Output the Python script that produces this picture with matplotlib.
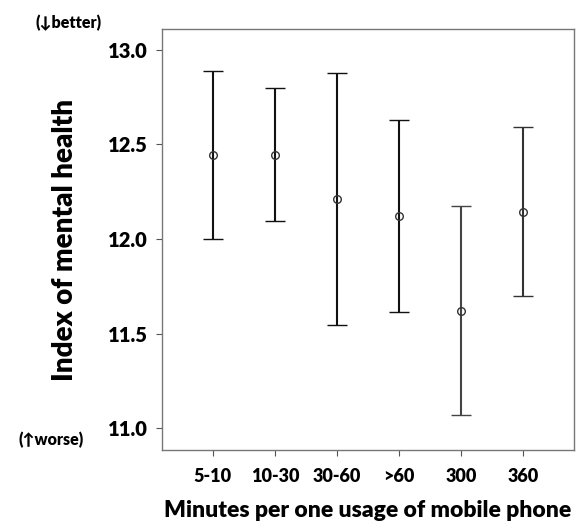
import matplotlib
matplotlib.use("Agg")
import matplotlib.pyplot as plt

# data
categories = ["5-10", "10-30", "30-60", ">60", "300", "360"]
means = [12.445, 12.445, 12.21, 12.12, 11.62, 12.145]
upper = [12.889, 12.797, 12.878, 12.63, 12.175, 12.595]
lower = [12.0, 12.095, 11.545, 11.612, 11.07, 11.70]
yticks = [11.0, 11.5, 12.0, 12.5, 13.0]
bar_colors = ["#111111", "#111111", "#111111", "#111111", "#444444", "#333333"]

plt.rcParams['font.family'] = ['Lato', 'DejaVu Sans']

fig = plt.figure(figsize=(5.84, 5.25), dpi=100)
ax = fig.add_axes([0.2774, 0.1429, 0.7055, 0.8019])

xs = list(range(1, len(categories) + 1))
for x, m, hi, lo, c in zip(xs, means, upper, lower, bar_colors):
    ax.errorbar([x], [m], yerr=[[m - lo], [hi - m]], fmt='o', color=c,
                mfc='none', mec='#333333', ms=5.5, mew=1.0, elinewidth=1.5,
                capsize=7.5, capthick=1.5, zorder=3)

ax.set_xlim(0.18, 6.82)
ax.set_ylim(10.884, 13.111)
ax.set_xticks(xs)
ax.set_xticklabels(categories, fontsize=13, fontweight='heavy')
ax.set_yticks(yticks)
ax.set_yticklabels([f"{v:.1f}" for v in yticks], fontsize=14.5, fontweight='heavy')
ax.tick_params(axis='x', length=4, pad=9, color='#555555')
ax.tick_params(axis='y', length=4, pad=6, color='#555555')
for s in ax.spines.values():
    s.set_color('#777777')
    s.set_linewidth(1.0)

ax.set_ylabel("Index of mental health", fontsize=20, fontweight='heavy', labelpad=22)
ax.set_xlabel("Minutes per one usage of mobile phone", fontsize=16.5,
              fontweight='heavy', labelpad=11)

fig.text(69 / 584, 1 - 23 / 525, "(\u2193better)", fontsize=11.5, fontweight='heavy',
         ha='center', va='center', family=['Lato', 'DejaVu Sans'])
fig.text(51 / 584, 1 - 440 / 525, "(\u2191worse)", fontsize=11.5, fontweight='heavy',
         ha='center', va='center', family=['Lato', 'DejaVu Sans'])

fig.savefig("out.png", dpi=100)
